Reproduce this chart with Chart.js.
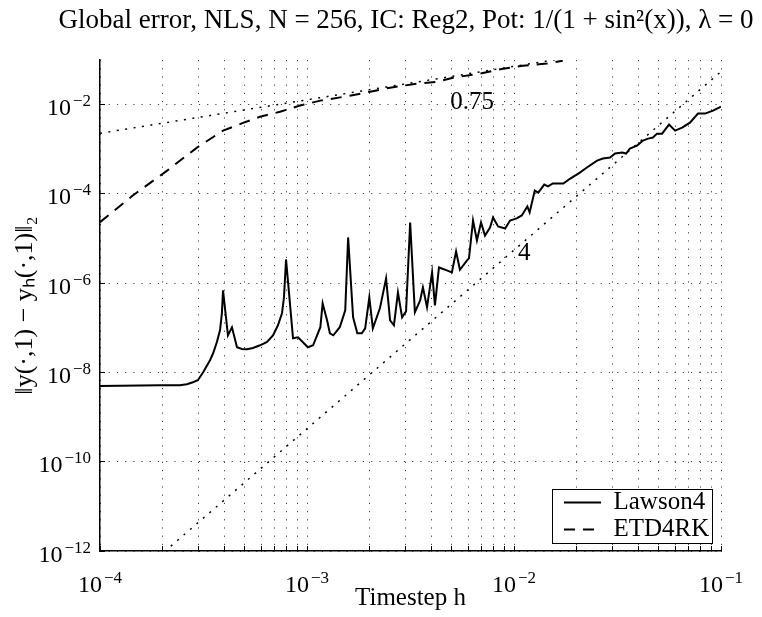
<!DOCTYPE html>
<html>
<head>
<meta charset="utf-8">
<script src="https://cdn.jsdelivr.net/npm/chart.js@4"></script>
<style>
html,body{margin:0;padding:0;background:#fff;}
#wrap{position:relative;width:762px;height:617px;}
</style>
</head>
<body>
<div id="wrap"><canvas id="c" width="762" height="617"></canvas></div>
<script>
// ---- data ----
const lawsonH = [1.00e-4,1.95e-4,2.43e-4,2.63e-4,2.81e-4,2.97e-4,3.15e-4,3.40e-4,3.52e-4,3.67e-4,3.80e-4,3.88e-4,3.93e-4,
  4.15e-4,4.34e-4,4.59e-4,4.85e-4,5.13e-4,5.48e-4,5.93e-4,6.41e-4,6.85e-4,7.24e-4,7.57e-4,7.74e-4,7.92e-4,
  8.56e-4,9.05e-4,1.01e-3,1.07e-3,1.16e-3,1.19e-3,1.25e-3,1.29e-3,1.34e-3,1.44e-3,1.53e-3,1.58e-3,1.67e-3,
  1.75e-3,1.84e-3,1.91e-3,2.00e-3,2.08e-3,2.25e-3,2.41e-3,2.52e-3,2.63e-3,2.75e-3,2.88e-3,3.01e-3,3.15e-3,
  3.32e-3,3.52e-3,3.63e-3,3.80e-3,4.02e-3,4.15e-3,4.34e-3,4.74e-3,5.01e-3,5.25e-3,5.48e-3,5.93e-3,6.06e-3,
  6.34e-3,6.62e-3,6.93e-3,7.24e-3,7.66e-3,7.92e-3,8.38e-3,9.06e-3,9.57e-3,1.03e-2,1.09e-2,1.16e-2,1.19e-2,
  1.26e-2,1.31e-2,1.40e-2,1.46e-2,1.54e-2,1.73e-2,1.87e-2,2.08e-2,2.25e-2,2.52e-2,2.69e-2,2.91e-2,3.08e-2,
  3.33e-2,3.48e-2,3.63e-2,3.93e-2,4.20e-2,4.44e-2,4.69e-2,4.91e-2,5.19e-2,5.61e-2,6.00e-2,6.49e-2,7.08e-2,
  7.74e-2,8.37e-2,9.15e-2,1.00e-1];
const lawsonErr = [4.99e-9,5.18e-9,5.18e-9,5.45e-9,6.04e-9,6.70e-9,1.01e-8,1.88e-8,2.69e-8,4.81e-8,8.79e-8,2.11e-7,6.90e-7,
  6.79e-8,1.03e-7,3.66e-8,3.36e-8,3.30e-8,3.53e-8,4.06e-8,4.81e-8,6.79e-8,1.14e-7,2.11e-7,4.81e-7,3.40e-6,
  5.82e-8,6.12e-8,3.66e-8,4.06e-8,1.03e-7,3.53e-7,1.47e-7,7.53e-8,6.79e-8,1.03e-7,2.46e-7,1.06e-5,1.72e-7,
  7.53e-8,7.53e-8,9.75e-8,4.81e-7,9.75e-8,2.73e-7,1.28e-6,1.47e-7,1.14e-7,6.22e-7,1.72e-7,2.34e-7,2.29e-5,
  2.22e-7,4.12e-7,8.05e-7,2.88e-7,1.75e-6,3.18e-7,2.25e-6,1.93e-6,1.75e-6,5.14e-6,2.0e-6,3.24e-6,3.59e-6,
  2.54e-5,9.06e-6,2.29e-5,1.17e-5,1.77e-5,2.96e-5,1.87e-5,1.68e-5,2.54e-5,2.82e-5,3.29e-5,5.22e-5,3.84e-5,
  1.19e-4,1.07e-4,1.62e-4,1.47e-4,1.71e-4,1.71e-4,2.21e-4,3.01e-4,3.90e-4,5.58e-4,6.19e-4,6.52e-4,8.02e-4,
  8.43e-4,8.02e-4,1.04e-3,1.21e-3,1.57e-3,1.73e-3,1.83e-3,2.24e-3,2.24e-3,3.57e-3,2.62e-3,3.05e-3,3.95e-3,
  6.29e-3,6.29e-3,7.34e-3,9.02e-3];
const etdH = [1.00e-4,1.44e-4,2.11e-4,2.94e-4,3.93e-4,4.91e-4,5.93e-4,7.41e-4,9.25e-4,1.16e-3,1.61e-3,2.02e-3,
  2.52e-3,3.40e-3,4.25e-3,5.07e-3,6.85e-3,8.86e-3,1.10e-2,1.44e-2,1.72e-2];
const etdErr = [2.33e-5,9.2e-5,3.33e-4,1.09e-3,2.62e-3,3.89e-3,5.37e-3,6.92e-3,9.55e-3,1.23e-2,1.58e-2,1.95e-2,
  2.40e-2,2.95e-2,3.24e-2,4.02e-2,4.94e-2,6.38e-2,7.45e-2,8.32e-2,9.64e-2];
const ref075H = [1e-4, 1e-1];
const ref075Err = [2.28e-3, 0.405];
const ref4H = [1e-4, 1e-1];
const ref4Err = [5.5e-14, 5.5e-2];
const xMajorTicks = [1e-4, 1e-3, 1e-2, 1e-1];
const xMinorSteps = [2, 3, 4, 5, 6, 7, 8, 9];
const tickBase = '10';
const xTickExps = ['−4', '−3', '−2', '−1'];
const yTicks = [1e-12, 1e-10, 1e-8, 1e-6, 1e-4, 1e-2];
const yTickExps = ['−12', '−10', '−8', '−6', '−4', '−2'];
const annoText = ['0.75', '4'];
const annoH = [6.27e-3, 1.12e-2];
const annoErr = [1.11e-2, 4.64e-6];
const seriesNames = ['Lawson4', 'ETD4RK'];

// ---- helpers ----
const pts = (xs, ys) => xs.map((v, i) => ({x: v, y: ys[i]}));
const xAllTicks = [];
xMajorTicks.forEach((m, i) => {
  xAllTicks.push(m);
  if (i < xMajorTicks.length - 1) xMinorSteps.forEach(s => xAllTicks.push(m * s));
});
const SERIF = '"Liberation Serif", "Times New Roman", serif';
const BASE_FONT = '24px ' + SERIF;
const EXP_FONT = '17px ' + SERIF;

const tickLabelPlugin = {
  id: 'tickLabels',
  afterDraw(chart) {
    const {ctx, scales: {x, y}} = chart;
    ctx.save();
    ctx.fillStyle = '#000';
    ctx.textBaseline = 'alphabetic';
    ctx.textAlign = 'left';
    const drawPow = (exp, px, baseY, align) => {
      ctx.font = BASE_FONT; const w1 = ctx.measureText(tickBase).width;
      ctx.font = EXP_FONT; const w2 = ctx.measureText(exp).width;
      const gap = 2;
      const left = align === 'right' ? px - w1 - w2 - gap : px - (w1 + w2 + gap) / 2;
      ctx.font = BASE_FONT; ctx.fillText(tickBase, left, baseY);
      ctx.font = EXP_FONT; ctx.fillText(exp, left + w1 + gap, baseY - 9);
    };
    xMajorTicks.forEach((v, i) => drawPow(xTickExps[i], x.getPixelForValue(v), x.top + 41, 'center'));
    yTicks.forEach((v, i) => drawPow(yTickExps[i], y.right - 9, y.getPixelForValue(v) + 10.5, 'right'));
    ctx.restore();
  }
};

const annotPlugin = {
  id: 'annot',
  afterDatasetsDraw(chart) {
    const {ctx, scales: {x, y}} = chart;
    ctx.save();
    ctx.font = '25px ' + SERIF;
    ctx.fillStyle = '#000';
    ctx.textAlign = 'center';
    ctx.textBaseline = 'middle';
    annoText.forEach((t, i) => ctx.fillText(t, x.getPixelForValue(annoH[i]), y.getPixelForValue(annoErr[i])));
    ctx.restore();
  }
};

const legendBoxPlugin = {
  id: 'legendBox',
  beforeDraw(chart) {
    const lg = chart.legend, ca = chart.chartArea;
    lg.left = ca.right - 159; lg.right = ca.right + 40;
    lg.top = ca.bottom - 63; lg.bottom = ca.bottom + 20;
    lg.width = lg.right - lg.left; lg.height = lg.bottom - lg.top;
  },
  afterDraw(chart) {
    const {ctx, chartArea: ca} = chart;
    const bx = ca.right - 169, by = ca.bottom - 62, bw = 160, bh = 54;
    ctx.save();
    ctx.fillStyle = '#fff';
    ctx.fillRect(bx, by, bw, bh);
    ctx.strokeStyle = '#000';
    ctx.lineWidth = 1;
    ctx.strokeRect(bx + 0.5, by + 0.5, bw, bh);
    ctx.restore();
    chart.legend.draw();
  }
};

const gridCommon = {color: '#444', lineWidth: 1, drawTicks: true, tickLength: -5, tickColor: '#000', tickWidth: 1};
const borderCommon = {display: true, color: '#000', width: 1.5, dash: [1.2, 7]};

new Chart(document.getElementById('c'), {
  type: 'line',
  data: {
    datasets: [
      {label: seriesNames[0], data: pts(lawsonH, lawsonErr), borderColor: '#000', borderWidth: 2, pointRadius: 0, tension: 0, fill: false},
      {label: seriesNames[1], data: pts(etdH, etdErr), borderColor: '#000', borderWidth: 2, borderDash: [11, 8], pointRadius: 0, tension: 0, fill: false},
      {label: 'slope 0.75', data: pts(ref075H, ref075Err), borderColor: '#000', borderWidth: 1.5, borderDash: [2, 6.5], pointRadius: 0, fill: false},
      {label: 'slope 4', data: pts(ref4H, ref4Err), borderColor: '#000', borderWidth: 1.5, borderDash: [2, 6.5], pointRadius: 0, fill: false}
    ]
  },
  options: {
    responsive: false,
    animation: false,
    devicePixelRatio: 1,
    layout: {padding: {left: 50, right: 0, top: 0, bottom: 0}},
    scales: {
      x: {
        type: 'logarithmic', position: 'bottom', min: 1e-4, max: 1e-1,
        afterBuildTicks: s => { s.ticks = xAllTicks.map(v => ({value: v})); },
        afterFit: s => { s.height = 66; },
        ticks: {display: false, autoSkip: false, maxRotation: 0},
        grid: gridCommon, border: borderCommon,
        title: {display: true, text: 'Timestep h', color: '#000', font: {family: SERIF, size: 25}, padding: {top: 0, bottom: 4}}
      },
      y: {
        type: 'logarithmic', position: 'left', min: 1e-12, max: 1e-1,
        afterBuildTicks: s => { s.ticks = yTicks.map(v => ({value: v})); },
        afterFit: s => { s.width = 50; },
        ticks: {display: false, autoSkip: false},
        grid: gridCommon, border: borderCommon,
        title: {display: true, text: '‖y(·,1) − yₕ(·,1)‖₂', color: '#000', font: {family: SERIF, size: 26}, padding: {top: -40, bottom: 0}}
      },
      yR: {
        type: 'linear', position: 'right', display: true, min: 0, max: 1,
        afterFit: s => { s.width = 41; },
        ticks: {display: false}, grid: {display: false, drawTicks: false}, border: {display: false}
      }
    },
    plugins: {
      title: {
        display: true,
        text: 'Global error, NLS, N = 256, IC: Reg2, Pot: 1/(1 + sin²(x)), λ = 0',
        color: '#000', font: {family: SERIF, size: 27, weight: 'normal'},
        padding: {top: 5, bottom: 22.6}
      },
      legend: {
        display: true, position: 'chartArea', align: 'start',
        labels: {
          usePointStyle: true, pointStyle: 'line', pointStyleWidth: 37, padding: 2,
          color: '#000', font: {family: SERIF, size: 25},
          generateLabels: chart => Chart.defaults.plugins.legend.labels.generateLabels(chart).map(it => {
            const ds = chart.data.datasets[it.datasetIndex];
            return Object.assign(it, {lineDash: ds.borderDash || [], lineWidth: ds.borderWidth, strokeStyle: ds.borderColor});
          }),
          filter: item => item.datasetIndex < 2
        }
      },
      tooltip: {enabled: false}
    }
  },
  plugins: [annotPlugin, legendBoxPlugin, tickLabelPlugin]
});
</script>
</body>
</html>
